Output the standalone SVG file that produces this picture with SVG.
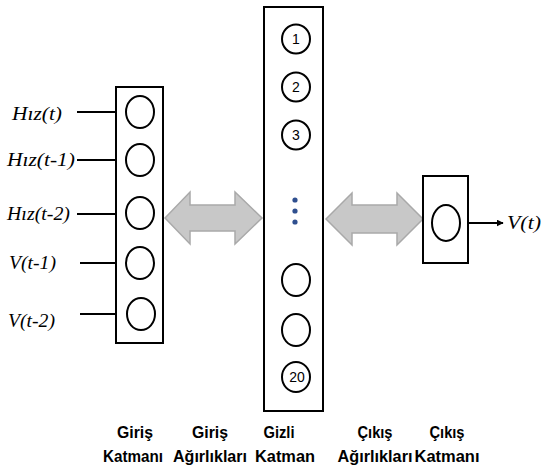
<svg xmlns="http://www.w3.org/2000/svg" width="542" height="469" viewBox="0 0 542 469">
<defs>
<style>
.box{fill:#fff;stroke:#000;stroke-width:2}
.nd{fill:#fff;stroke:#000;stroke-width:2}
.ln{stroke:#000;stroke-width:2;fill:none}
.lbl{font-family:"Liberation Serif",serif;font-style:italic;font-size:18px;fill:#000}
.num{font-family:"Liberation Sans",sans-serif;font-size:14px;fill:#000;text-anchor:middle}
.cap{font-family:"Liberation Sans",sans-serif;font-weight:bold;font-size:16px;fill:#000;text-anchor:middle}
.big{fill:#c8c8c8;stroke:#a9a9a9;stroke-width:1.5}
.dot{fill:#2f4f8f}
</style>
<marker id="ah" viewBox="0 0 10 10" refX="9" refY="5" markerWidth="7" markerHeight="7" markerUnits="userSpaceOnUse" orient="auto"><path d="M0,0 L10,5 L0,10 z" fill="#000"/></marker>
</defs>
<rect width="542" height="469" fill="#fff"/>

<g id="connectors">
<line class="ln" x1="77" y1="112" x2="126" y2="112"/>
<line class="ln" x1="77" y1="160" x2="126" y2="160"/>
<line class="ln" x1="77" y1="214" x2="126" y2="214"/>
<line class="ln" x1="80" y1="263" x2="126" y2="263"/>
<line class="ln" x1="80" y1="314" x2="126" y2="314"/>
<line class="ln" x1="460" y1="223" x2="503" y2="223" marker-end="url(#ah)"/>
<path id="arrow-input-weights" class="big" d="M165,218 L190,192 L190,205 L235,205 L235,192 L262,218 L235,244 L235,231 L190,231 L190,244 Z"/>
<path id="arrow-output-weights" class="big" d="M326,219 L352,193 L352,205 L397,205 L397,193 L423,219 L397,245 L397,233 L352,233 L352,245 Z"/>
</g>

<g id="input-layer">
<rect class="box" x="116" y="87" width="47" height="256"/>
<ellipse class="nd" cx="140" cy="112" rx="14" ry="16"/>
<ellipse class="nd" cx="140" cy="160" rx="14" ry="16"/>
<ellipse class="nd" cx="140" cy="213" rx="14" ry="16"/>
<ellipse class="nd" cx="140" cy="263" rx="14" ry="16"/>
<ellipse class="nd" cx="141" cy="314" rx="14" ry="16"/>
</g>

<g id="input-labels">
<text class="lbl" x="12" y="120" textLength="50" lengthAdjust="spacingAndGlyphs">Hız(t)</text>
<text class="lbl" x="7" y="166" textLength="68" lengthAdjust="spacingAndGlyphs">Hız(t-1)</text>
<text class="lbl" x="7" y="220" textLength="63" lengthAdjust="spacingAndGlyphs">Hız(t-2)</text>
<text class="lbl" x="9" y="269" textLength="47" lengthAdjust="spacingAndGlyphs">V(t-1)</text>
<text class="lbl" x="8" y="327" textLength="47" lengthAdjust="spacingAndGlyphs">V(t-2)</text>
</g>

<g id="hidden-layer">
<rect class="box" x="264" y="7" width="59" height="404"/>
<ellipse class="nd" cx="296" cy="39" rx="14" ry="14.5"/>
<ellipse class="nd" cx="296" cy="87" rx="14" ry="14.5"/>
<ellipse class="nd" cx="296" cy="135" rx="14" ry="14.5"/>
<text class="num" x="296" y="44">1</text>
<text class="num" x="296" y="92">2</text>
<text class="num" x="296" y="140">3</text>
<circle class="dot" cx="295" cy="200" r="2.6"/>
<circle class="dot" cx="295" cy="211" r="2.6"/>
<circle class="dot" cx="295" cy="222" r="2.6"/>
<ellipse class="nd" cx="296" cy="280" rx="14" ry="16"/>
<ellipse class="nd" cx="296" cy="330" rx="14" ry="16"/>
<ellipse class="nd" cx="296" cy="377" rx="14" ry="15"/>
<text class="num" x="297" y="382">20</text>
</g>

<g id="output-layer">
<rect class="box" x="423" y="176" width="45" height="87"/>
<ellipse class="nd" cx="446" cy="223" rx="14" ry="18"/>
<text class="lbl" x="507" y="229" textLength="34" lengthAdjust="spacingAndGlyphs">V(t)</text>
</g>

<g id="captions">
<text class="cap" x="135" y="438" textLength="36" lengthAdjust="spacingAndGlyphs">Giriş</text>
<text class="cap" x="133" y="462" textLength="60" lengthAdjust="spacingAndGlyphs">Katmanı</text>
<text class="cap" x="210" y="438" textLength="36" lengthAdjust="spacingAndGlyphs">Giriş</text>
<text class="cap" x="210" y="462" textLength="74" lengthAdjust="spacingAndGlyphs">Ağırlıkları</text>
<text class="cap" x="279" y="438" textLength="31" lengthAdjust="spacingAndGlyphs">Gizli</text>
<text class="cap" x="285" y="462" textLength="60" lengthAdjust="spacingAndGlyphs">Katman</text>
<text class="cap" x="375" y="438" textLength="35" lengthAdjust="spacingAndGlyphs">Çıkış</text>
<text class="cap" x="375" y="462" textLength="75" lengthAdjust="spacingAndGlyphs">Ağırlıkları</text>
<text class="cap" x="447" y="438" textLength="35" lengthAdjust="spacingAndGlyphs">Çıkış</text>
<text class="cap" x="447" y="462" textLength="65" lengthAdjust="spacingAndGlyphs">Katmanı</text>
</g>
</svg>
